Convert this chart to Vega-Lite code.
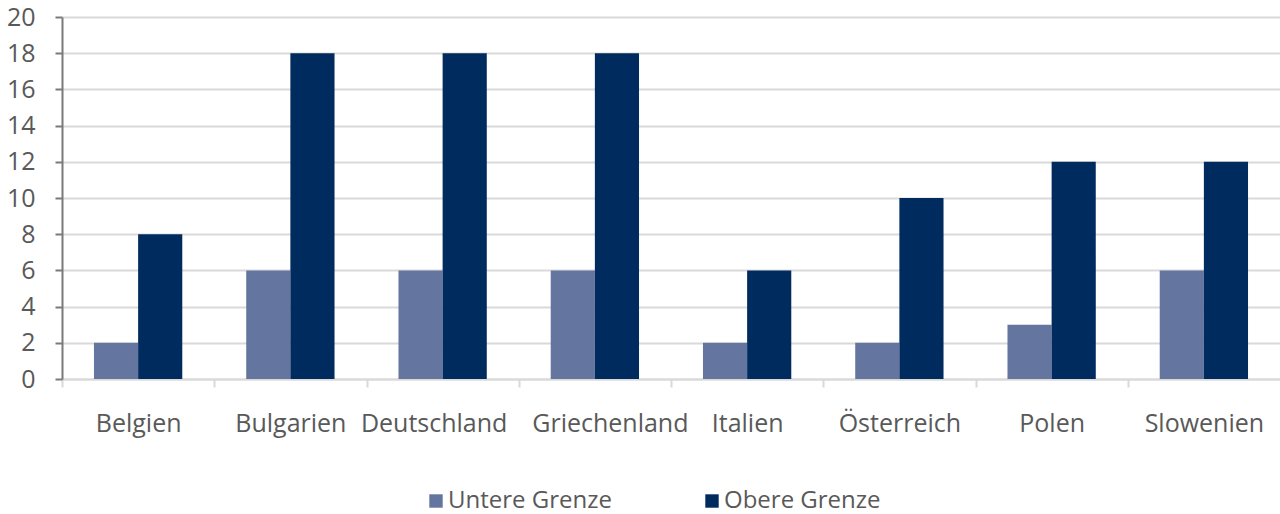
{
  "$schema": "https://vega.github.io/schema/vega-lite/v6.json",
  "autosize": {"type": "none"},
  "padding": {"left": 62, "top": 17, "right": 0, "bottom": 135},
  "width": 1218,
  "height": 362,
  "background": "white",
  "data": {"values": [
    {"land": "Belgien", "serie": "Untere Grenze", "wert": 2},
    {"land": "Belgien", "serie": "Obere Grenze", "wert": 8},
    {"land": "Bulgarien", "serie": "Untere Grenze", "wert": 6},
    {"land": "Bulgarien", "serie": "Obere Grenze", "wert": 18},
    {"land": "Deutschland", "serie": "Untere Grenze", "wert": 6},
    {"land": "Deutschland", "serie": "Obere Grenze", "wert": 18},
    {"land": "Griechenland", "serie": "Untere Grenze", "wert": 6},
    {"land": "Griechenland", "serie": "Obere Grenze", "wert": 18},
    {"land": "Italien", "serie": "Untere Grenze", "wert": 2},
    {"land": "Italien", "serie": "Obere Grenze", "wert": 6},
    {"land": "Österreich", "serie": "Untere Grenze", "wert": 2},
    {"land": "Österreich", "serie": "Obere Grenze", "wert": 10},
    {"land": "Polen", "serie": "Untere Grenze", "wert": 3},
    {"land": "Polen", "serie": "Obere Grenze", "wert": 12},
    {"land": "Slowenien", "serie": "Untere Grenze", "wert": 6},
    {"land": "Slowenien", "serie": "Obere Grenze", "wert": 12}
  ]},
  "config": {
    "view": {"stroke": null},
    "font": "Open Sans"
  },
  "mark": {"type": "bar"},
  "encoding": {
    "x": {
      "field": "land", "type": "nominal", "sort": null,
      "scale": {"paddingInner": 0.42, "paddingOuter": 0.21},
      "axis": {
        "title": null, "labelAngle": 0, "labelFontSize": 25, "labelColor": "#595959",
        "labelPadding": 24, "domainColor": "#d9d9d9", "domainWidth": 2,
        "tickColor": "#d9d9d9", "tickWidth": 2, "tickSize": 8,
        "tickOffset": -76,
        "labelOffset": {"condition": [
          {"test": "datum.value === 'Deutschland'", "value": 67},
          {"test": "datum.value === 'Griechenland'", "value": 91}
        ], "value": 76},
        "labelFont": "Open Sans"
      }
    },
    "xOffset": {"field": "serie", "type": "nominal", "sort": ["Untere Grenze", "Obere Grenze"]},
    "y": {
      "field": "wert", "type": "quantitative",
      "scale": {"domain": [0, 20], "nice": false},
      "axis": {
        "title": null, "values": [0, 2, 4, 6, 8, 10, 12, 14, 16, 18, 20],
        "labelFontSize": 25, "labelColor": "#595959", "labelPadding": 20,
        "domainColor": "#7a7a7a", "domainWidth": 2, "tickColor": "#7a7a7a",
        "tickWidth": 2, "tickSize": 7, "gridColor": "#d9d9d9", "gridWidth": 2,
        "labelFont": "Open Sans"
      }
    },
    "color": {
      "field": "serie", "type": "nominal",
      "scale": {"domain": ["Untere Grenze", "Obere Grenze"], "range": ["#64769f", "#002b5e"]},
      "legend": {
        "title": null, "orient": "none", "legendX": 362, "legendY": 472, "direction": "horizontal",
        "symbolType": "square", "symbolSize": 180, "symbolStrokeWidth": 0,
        "labelFontSize": 24, "labelColor": "#595959", "labelFont": "Open Sans",
        "labelLimit": 400, "columnPadding": 88, "labelOffset": 0
      }
    }
  }
}
